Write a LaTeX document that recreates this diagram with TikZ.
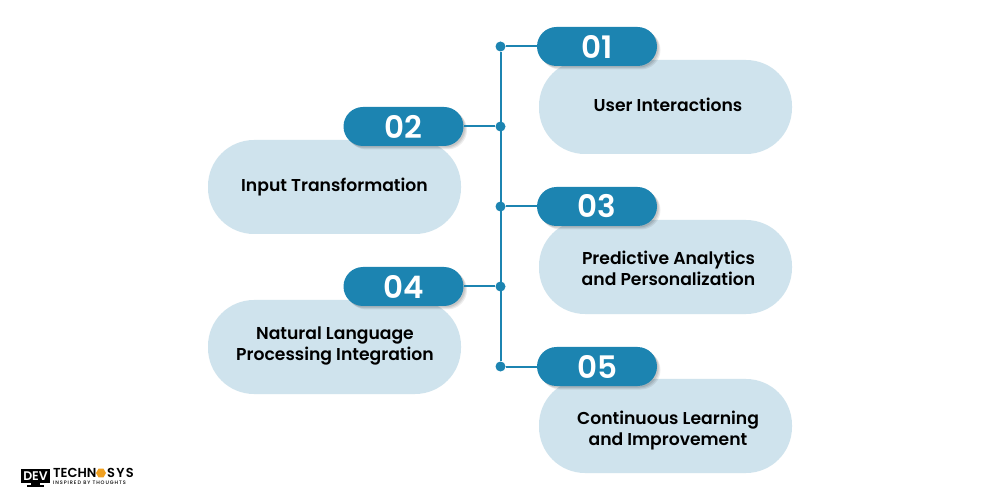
\documentclass[tikz,border=0pt]{standalone}
\usepackage{fontspec}
\setmainfont{Poppins}[UprightFont=* Medium,BoldFont=* SemiBold]
\usetikzlibrary{shadows,shapes.geometric}
\definecolor{pillblue}{HTML}{1C84B1}
\definecolor{bubble}{HTML}{CFE3ED}
\definecolor{logoorange}{HTML}{F0A020}
\tikzset{
 x=1bp,y=-1bp,
 bubblebox/.style={fill=bubble,rounded corners=46bp,minimum width=253bp,minimum height=94bp,inner sep=0pt},
 bubbletext/.style={inner sep=0pt,align=center,font=\fontsize{17.2bp}{21bp}\selectfont\bfseries,text=black},
 pill/.style={fill=pillblue,rounded corners=19.5bp,minimum width=120bp,minimum height=39bp,inner sep=0pt,text=white,
   font=\fontsize{31bp}{31bp}\selectfont\bfseries,
   drop shadow={shadow xshift=3.5bp,shadow yshift=-3.5bp,fill=black,opacity=0.07},
   drop shadow={shadow xshift=2.5bp,shadow yshift=-2.5bp,fill=black,opacity=0.08},
   drop shadow={shadow xshift=1.5bp,shadow yshift=-1.5bp,fill=black,opacity=0.09}},
 joint/.style={circle,fill=pillblue,minimum size=10bp,inner sep=0pt},
 link/.style={draw=pillblue,line width=2bp},
 logotext/.style={anchor=west,inner sep=0pt,font=\fontsize{13bp}{13bp}\selectfont\bfseries},
 every node/.append style={anchor=center}
}
\begin{document}
\begin{tikzpicture}
\useasboundingbox[fill=white] (0,0) rectangle (1000,500);
% bubbles
\node[bubblebox] (b1) at (665.5,107) {};
\node[bubblebox] (b2) at (334.5,187) {};
\node[bubblebox] (b3) at (665.5,267) {};
\node[bubblebox] (b4) at (334.5,347) {};
\node[bubblebox] (b5) at (665.5,426) {};
% texts
\node[bubbletext] (t1) at (668,105) {User Interactions};
\node[bubbletext] (t2) at (334.5,187.5) {Input Transformation};
\node[bubbletext] (t3) at (668.5,268.5) {Predictive Analytics\\and Personalization};
\node[bubbletext] (t4) at (335,345.5) {Natural Language\\Processing Integration};
\node[bubbletext] (t5) at (668,430.5) {Continuous Learning\\and Improvement};
% joints
\node[joint] (j1) at (500.5,46.5) {};
\node[joint] (j2) at (500.5,126.5) {};
\node[joint] (j3) at (500.5,206.5) {};
\node[joint] (j4) at (500.5,286.5) {};
\node[joint] (j5) at (500.5,366.5) {};
\draw[link] (j1) -- (j5);
% pills
\node[pill] (p1) at (597,46.5) {01};
\node[pill] (p2) at (403.5,126.5) {02};
\node[pill] (p3) at (597,206.5) {03};
\node[pill] (p4) at (403.5,286.5) {04};
\node[pill] (p5) at (597,366.5) {05};
\draw[link] (j1) -- (p1);
\draw[link] (j2) -- (p2);
\draw[link] (j3) -- (p3);
\draw[link] (j4) -- (p4);
\draw[link] (j5) -- (p5);
% logo
\fill[black] (21,469) rectangle (50,483);
\fill[black] (31,483) rectangle (40,485);
\fill[black] (27,485) rectangle (44,486.5);
\node[text=white,font=\fontsize{12.5bp}{12.5bp}\selectfont\bfseries] (lgd) at (35.5,476) {DEV};
\node[logotext] (lg1) at (53,473) {TECHN};
\node[regular polygon,regular polygon sides=6,fill=logoorange,minimum size=10bp,inner sep=0pt] (lg2) at (101,473) {};
\node[logotext] (lg3) at (107,473) {\addfontfeature{LetterSpace=10}SYS};
\node[anchor=west,inner sep=0pt,font=\fontsize{5bp}{5bp}\selectfont] (lg4) at (53,482.4) {\addfontfeature{LetterSpace=18}INSPIRED BY THOUGHTS};
\end{tikzpicture}
\end{document}
